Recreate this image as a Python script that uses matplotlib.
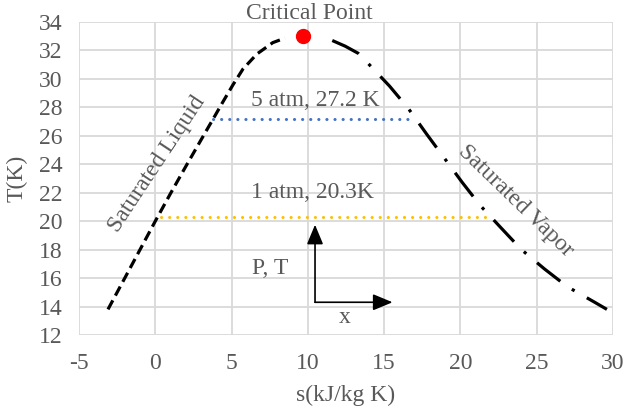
import matplotlib
matplotlib.use("Agg")
import matplotlib.pyplot as plt

plt.rcParams['font.family'] = ['Liberation Serif', 'DejaVu Serif']
plt.rcParams['axes.unicode_minus'] = False

# saturated liquid line (s, T)
liq_s = [-3.1, -2.1, -1.1, 0.0, 1.0, 2.0, 3.26, 3.8, 4.44, 5.1, 5.75, 6.66, 7.7, 8.5]
liq_T = [13.8, 15.8, 17.8, 20.0, 21.95, 23.85, 26.2, 27.2, 28.4, 29.6, 30.7, 31.75, 32.55, 32.87]

# saturated vapor line (s, T)
vap_s = [11.6, 12.45, 13.3, 13.94, 15.35, 16.6, 17.8, 18.9, 20.1, 21.3, 22.6, 24.0, 25.5, 27.0, 28.8, 29.6]
vap_T = [32.7, 32.3, 31.8, 31.1, 29.5, 27.9, 26.1, 24.5, 22.75, 21.1, 19.6, 18.0, 16.65, 15.4, 14.3, 13.8]

# isobars
iso5_s = [3.8, 16.7]
iso5_T = [27.2, 27.2]
iso1_s = [0.4, 21.7]
iso1_T = [20.3, 20.3]

crit_s = [9.7]
crit_T = [33.0]

gray = '#595959'
fs = 17

fig = plt.figure(figsize=(6.25, 4.13), dpi=100)
ax = fig.add_axes([0.1264, 0.1889, 0.8544, 0.7578])

ax.plot(liq_s, liq_T, color='black', lw=2.3, linestyle=(0, (3.2, 1.7)), dash_capstyle='butt')
ax.plot(vap_s, vap_T, color='black', lw=2.3, linestyle=(0, (9.3, 4.4, 1.0, 4.4)), dash_capstyle='butt')
ax.plot(iso5_s, iso5_T, color='#4472C4', lw=2.2, linestyle=(0, (0.05, 2.6)), dash_capstyle='round')
ax.plot(iso1_s, iso1_T, color='#FFC000', lw=2.2, linestyle=(0, (0.05, 2.6)), dash_capstyle='round')
ax.plot(crit_s, crit_T, 'o', color='#FF0000', markersize=10, zorder=5, clip_on=False)

ax.set_xlim(-5, 30)
ax.set_ylim(12, 34)
ax.set_xticks(range(-5, 31, 5))
ax.set_yticks(range(12, 35, 2))
ax.grid(True, color='#d9d9d9', lw=1.3)
ax.set_axisbelow(True)
for sp in ax.spines.values():
    sp.set_visible(False)
ax.tick_params(length=0, labelsize=fs, labelcolor=gray)
ax.tick_params(axis='y', pad=12)
ax.tick_params(axis='x', pad=13)

ax.set_xlabel('s(kJ/kg K)', fontsize=fs, color=gray, labelpad=8)
ax.set_ylabel('T(K)', fontsize=fs, color=gray, labelpad=8)

ax.text(10.1, 34.6, 'Critical Point', fontsize=fs, color=gray, ha='center', va='center', clip_on=False)
ax.text(10.5, 28.5, '5 atm, 27.2 K', fontsize=fs, color=gray, ha='center', va='center')
ax.text(10.3, 22.0, '1 atm, 20.3K', fontsize=fs, color=gray, ha='center', va='center')
ax.text(0.14, 24.0, 'Saturated Liquid', fontsize=fs, color=gray, ha='center', va='center', rotation=56.5)
ax.text(23.6, 21.4, 'Saturated Vapor', fontsize=fs, color=gray, ha='center', va='center', rotation=-44)
ax.text(7.5, 16.7, 'P, T', fontsize=fs, color=gray, ha='center', va='center')
ax.text(12.4, 13.2, 'x', fontsize=fs, color=gray, ha='center', va='center')

# P,T and x arrows
arrow = dict(arrowstyle='-|>,head_length=1.2,head_width=0.5', color='black', lw=1.2, shrinkA=0, shrinkB=0)
ax.annotate('', xy=(10.47, 19.75), xytext=(10.47, 14.3), arrowprops=arrow)
ax.annotate('', xy=(15.55, 14.3), xytext=(10.47, 14.3), arrowprops=arrow)

fig.savefig('out.png', dpi=100)
